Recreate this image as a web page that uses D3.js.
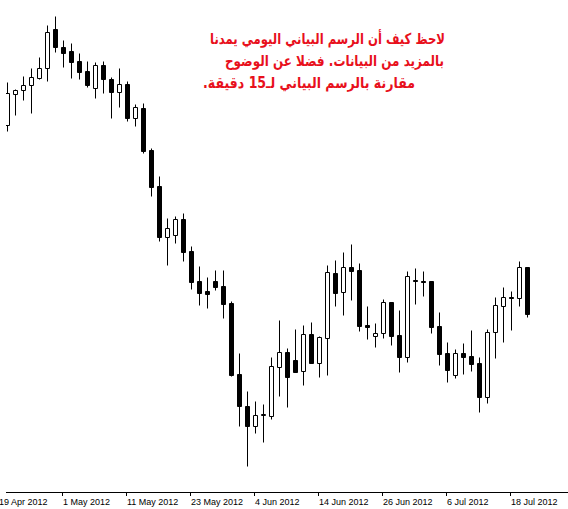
<!DOCTYPE html>
<html>
<head>
<meta charset="utf-8">
<script src="https://cdn.jsdelivr.net/npm/d3@7"></script>
<style>
    body { margin: 0; background: #fff; }
    #chart { width: 568px; height: 509px; }
</style>
</head>
<body>
<div id="chart"></div>
<script>
(function () {
    // Daily bars, 20 Apr 2012 .. 20 Jul 2012 (weekdays only)
    const firstDay = "2012-04-19"; // only used for the cut-off label at the left edge
    const lastDay = "2012-07-20";

    const opens = [
        1.6090, 1.6152, 1.6160, 1.6170, 1.6184, 1.6204, 1.6282, 1.6246, 1.6238, 1.6218,
        1.6198, 1.6164, 1.6210, 1.6182, 1.6156, 1.6172, 1.6104, 1.6124, 1.6040, 1.5968,
        1.5866, 1.5870, 1.5902, 1.5838, 1.5778, 1.5758, 1.5778, 1.5768, 1.5734, 1.5592,
        1.5528, 1.5488, 1.5510, 1.5508, 1.5606, 1.5636, 1.5620, 1.5598, 1.5672, 1.5614,
        1.5664, 1.5794, 1.5756, 1.5806, 1.5800, 1.5690, 1.5668, 1.5674, 1.5736, 1.5670,
        1.5626, 1.5780, 1.5778, 1.5778, 1.5688, 1.5634, 1.5590, 1.5634, 1.5628, 1.5614,
        1.5546, 1.5676, 1.5728, 1.5746, 1.5744, 1.5806
    ];
    const highs = [
        1.6176, 1.6162, 1.6188, 1.6204, 1.6226, 1.6290, 1.6308, 1.6260, 1.6254, 1.6234,
        1.6218, 1.6216, 1.6218, 1.6186, 1.6204, 1.6178, 1.6132, 1.6134, 1.6044, 1.5988,
        1.5904, 1.5908, 1.5914, 1.5848, 1.5808, 1.5786, 1.5800, 1.5800, 1.5738, 1.5634,
        1.5558, 1.5538, 1.5532, 1.5626, 1.5700, 1.5644, 1.5682, 1.5690, 1.5696, 1.5668,
        1.5810, 1.5820, 1.5836, 1.5852, 1.5814, 1.5728, 1.5694, 1.5742, 1.5736, 1.5720,
        1.5798, 1.5804, 1.5798, 1.5778, 1.5716, 1.5656, 1.5642, 1.5654, 1.5680, 1.5626,
        1.5682, 1.5746, 1.5766, 1.5758, 1.5818, 1.5806
    ];
    const lows = [
        1.6078, 1.6110, 1.6140, 1.6114, 1.6182, 1.6178, 1.6236, 1.6206, 1.6184, 1.6182,
        1.6166, 1.6144, 1.6154, 1.6104, 1.6126, 1.6098, 1.6088, 1.6034, 1.5948, 1.5858,
        1.5810, 1.5854, 1.5818, 1.5762, 1.5730, 1.5724, 1.5760, 1.5704, 1.5588, 1.5488,
        1.5408, 1.5474, 1.5456, 1.5502, 1.5548, 1.5526, 1.5596, 1.5570, 1.5614, 1.5586,
        1.5590, 1.5728, 1.5710, 1.5740, 1.5678, 1.5662, 1.5646, 1.5664, 1.5650, 1.5596,
        1.5616, 1.5732, 1.5748, 1.5674, 1.5610, 1.5576, 1.5584, 1.5592, 1.5598, 1.5516,
        1.5534, 1.5624, 1.5656, 1.5680, 1.5728, 1.5706
    ];
    const closes = [
        1.6154, 1.6160, 1.6170, 1.6186, 1.6204, 1.6276, 1.6246, 1.6234, 1.6216, 1.6196,
        1.6170, 1.6210, 1.6182, 1.6156, 1.6172, 1.6104, 1.6126, 1.6038, 1.5966, 1.5866,
        1.5884, 1.5902, 1.5836, 1.5776, 1.5754, 1.5752, 1.5766, 1.5732, 1.5590, 1.5528,
        1.5488, 1.5510, 1.5512, 1.5608, 1.5636, 1.5586, 1.5596, 1.5672, 1.5614, 1.5666,
        1.5796, 1.5754, 1.5806, 1.5798, 1.5688, 1.5686, 1.5674, 1.5736, 1.5668, 1.5626,
        1.5788, 1.5778, 1.5776, 1.5686, 1.5632, 1.5600, 1.5634, 1.5626, 1.5612, 1.5546,
        1.5676, 1.5730, 1.5746, 1.5744, 1.5806, 1.5712
    ];

    // Date labels on the time axis (every 8 bars)
    const tickDays = ["2012-04-19", "2012-05-01", "2012-05-11", "2012-05-23", "2012-06-04",
        "2012-06-14", "2012-06-26", "2012-07-06", "2012-07-18"];

    // Red note written on the chart
    const noteLines = [
        "لاحظ كيف أن الرسم البياني اليومي يمدنا",
        "بالمزيد من البيانات. فضلا عن الوضوح",
        "مقارنة بالرسم البياني لـ15 دقيقة."
    ];

    const width = 568, height = 509;
    const plotLeft = 6, axisY = 492.5;
    const barStep = 8, bodyHalf = 2;

    const parse = d3.utcParse("%Y-%m-%d");
    const key = d3.utcFormat("%Y-%m-%d");
    const days = d3.utcDay.range(parse(firstDay), d3.utcDay.offset(parse(lastDay), 1))
        .filter(d => d.getUTCDay() !== 0 && d.getUTCDay() !== 6)
        .map(key);

    const candles = opens.map((o, i) => ({
        day: days[i + 1], o: o, h: highs[i], l: lows[i], c: closes[i]
    }));

    // One band per trading day; band centres fall on pixel centres
    const x = d3.scaleBand()
        .domain(days)
        .range([-4.5, -4.5 + days.length * barStep]);
    const cx = d => x(d) + x.bandwidth() / 2;

    // No price axis is shown; the scale just maps price to pixels
    const y = d3.scaleLinear()
        .domain([1.6340, 1.5340])
        .range([0.5, 500.5]);

    const svg = d3.select("#chart").append("svg")
        .attr("width", width)
        .attr("height", height)
        .style("display", "block");

    svg.append("rect")
        .attr("width", width).attr("height", height)
        .attr("fill", "#fff");

    svg.append("clipPath").attr("id", "plot-clip")
        .append("rect")
        .attr("x", plotLeft).attr("y", 0)
        .attr("width", width - plotLeft).attr("height", axisY);

    const plot = svg.append("g").attr("clip-path", "url(#plot-clip)");

    // wicks
    plot.append("g")
        .selectAll("line")
        .data(candles)
        .join("line")
        .attr("x1", d => cx(d.day)).attr("x2", d => cx(d.day))
        .attr("y1", d => y(d.h)).attr("y2", d => y(d.l))
        .attr("stroke", "#000")
        .attr("stroke-width", 1);

    // bodies: white when the bar closed up, black when it closed down
    plot.append("g")
        .selectAll("path")
        .data(candles)
        .join("path")
        .attr("d", d => {
            const x0 = cx(d.day) - bodyHalf;
            const top = Math.round(y(Math.max(d.o, d.c)) - 0.5) + 0.5;
            const bottom = Math.round(y(Math.min(d.o, d.c)) - 0.5) + 0.5;
            return `M${x0},${top}h${bodyHalf * 2}V${bottom}h${-bodyHalf * 2}Z`;
        })
        .attr("fill", d => d.c > d.o ? "#fff" : "#000")
        .attr("stroke", "#000")
        .attr("stroke-width", 1);

    // time axis
    const axis = d3.axisBottom(x)
        .tickValues(tickDays)
        .tickSize(3)
        .tickSizeOuter(0)
        .tickFormat(d => d3.utcFormat("%-d %b %Y")(parse(d)));

    const gAxis = svg.append("g")
        .attr("transform", `translate(-1,${axisY})`)
        .call(axis);

    gAxis.select(".domain").remove();
    gAxis.selectAll(".tick line").attr("stroke", "#000").attr("shape-rendering", "crispEdges");
    gAxis.selectAll(".tick text")
        .attr("text-anchor", "start")
        .attr("x", 0.5)
        .attr("y", 12)
        .attr("dy", null)
        .attr("fill", "#000")
        .style("font-family", "'Liberation Sans', Arial, sans-serif")
        .style("font-size", "9px");

    svg.append("line")
        .attr("x1", plotLeft).attr("x2", width)
        .attr("y1", axisY).attr("y2", axisY)
        .attr("stroke", "#000")
        .attr("shape-rendering", "crispEdges");

    // note: each line anchored at its right edge (RTL), squeezed to the width seen in the picture
    const noteRight = [445, 444, 415];
    const noteWidth = [235, 219, 212];
    svg.append("g")
        .selectAll("text")
        .data(noteLines)
        .join("text")
        .attr("x", (d, i) => noteRight[i])
        .attr("y", (d, i) => 44 + i * 22)
        .attr("direction", "rtl")
        .attr("text-anchor", "start")
        .attr("textLength", (d, i) => noteWidth[i])
        .attr("lengthAdjust", "spacingAndGlyphs")
        .attr("fill", "#e8101c")
        .style("font-family", "'DejaVu Sans', sans-serif")
        .style("font-weight", "bold")
        .style("font-size", "15px")
        .text(d => d);
})();
</script>
</body>
</html>
